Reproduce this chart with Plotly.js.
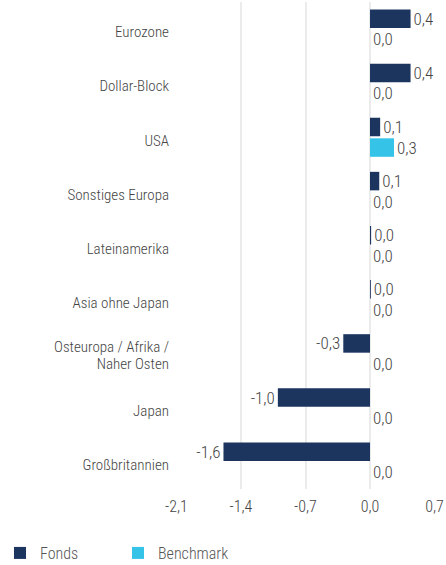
<!DOCTYPE html>
<html>
<head>
<meta charset="utf-8">
<script src="https://cdn.plot.ly/plotly-3.0.1.min.js"></script>
<style>html,body{margin:0;padding:0;background:#fff;}#chart{width:446px;height:565px;}</style>
</head>
<body>
<div id="chart"></div>
<script>
var categories = ["Eurozone", "Dollar-Block", "USA", "Sonstiges Europa", "Lateinamerika", "Asia ohne Japan", "Osteuropa / Afrika /<br>Naher Osten", "Japan", "Großbritannien"];
var fondsValues = [0.44, 0.44, 0.11, 0.10, 0.012, 0.009, -0.29, -1.00, -1.59];
var benchmarkValues = [0, 0, 0.26, 0, 0, 0, 0, 0, 0];
var xTicks = [-2.1, -1.4, -0.7, 0, 0.7];
var xTickLabels = ["-2,1", "-1,4", "-0,7", "0,0", "0,7"];

var FONT = '"Roboto Condensed", sans-serif';
var W = 300;

var traces = [
  {
    type: 'bar', orientation: 'h', name: 'Fonds',
    y: categories, x: fondsValues,
    marker: {color: '#1b355e'},
    texttemplate: '%{x:.1f}', textposition: 'outside', constraintext: 'none',
    textfont: {family: FONT, size: 17, color: '#444', weight: W},
    cliponaxis: false, hoverinfo: 'none'
  },
  {
    type: 'bar', orientation: 'h', name: 'Benchmark',
    y: categories, x: benchmarkValues,
    marker: {color: '#35c4e8'},
    texttemplate: '%{x:.1f}', textposition: 'outside', constraintext: 'none',
    textfont: {family: FONT, size: 17, color: '#444', weight: W},
    cliponaxis: false, hoverinfo: 'none'
  }
];

var layout = {
  width: 446, height: 565,
  margin: {l: 176, r: 11, t: 2, b: 76},
  separators: ',.',
  barmode: 'group', bargap: 0.24, bargroupgap: 0.1,
  paper_bgcolor: '#fff', plot_bgcolor: '#fff',
  font: {family: FONT, size: 15, color: '#444', weight: W},
  showlegend: true,
  legend: {orientation: 'h', x: 0.0, xref: 'container', xanchor: 'left',
           y: 0.0212, yref: 'container', yanchor: 'middle',
           entrywidth: 73, entrywidthmode: 'pixels',
           font: {family: FONT, size: 16, color: '#555', weight: W}, traceorder: 'normal'},
  xaxis: {
    range: [-2.105, 0.705], tickvals: xTicks, ticktext: xTickLabels,
    showgrid: true, gridcolor: '#ebebeb', gridwidth: 2,
    zeroline: true, zerolinecolor: '#ebebeb', zerolinewidth: 2,
    showline: false, ticks: '', ticklabelstandoff: 6,
    tickfont: {family: FONT, size: 16, color: '#444', weight: W},
    fixedrange: true
  },
  yaxis: {
    type: 'category', autorange: 'reversed',
    showgrid: false, zeroline: false, showline: false,
    ticks: 'outside', ticklen: 3, tickcolor: 'rgba(0,0,0,0)',
    ticklabelshift: -3,
    tickfont: {family: FONT, size: 15, color: '#444', weight: W},
    fixedrange: true
  }
};

Plotly.newPlot('chart', traces, layout, {displayModeBar: false, staticPlot: true}).then(function () {
  // tighten line spacing of multi-line category labels
  document.querySelectorAll('.ytick text').forEach(function (t) {
    var lines = t.querySelectorAll('tspan.line');
    if (lines.length > 1) {
      lines.forEach(function (ln) {
        var dy = parseFloat(ln.getAttribute('dy'));
        if (dy) ln.setAttribute('dy', (dy * 1.1 / 1.3) + 'em');
      });
      var y = parseFloat(t.getAttribute('y'));
      t.setAttribute('y', y + 0.1 * 15 * (lines.length - 1));
    }
  });
});
</script>
</body>
</html>
